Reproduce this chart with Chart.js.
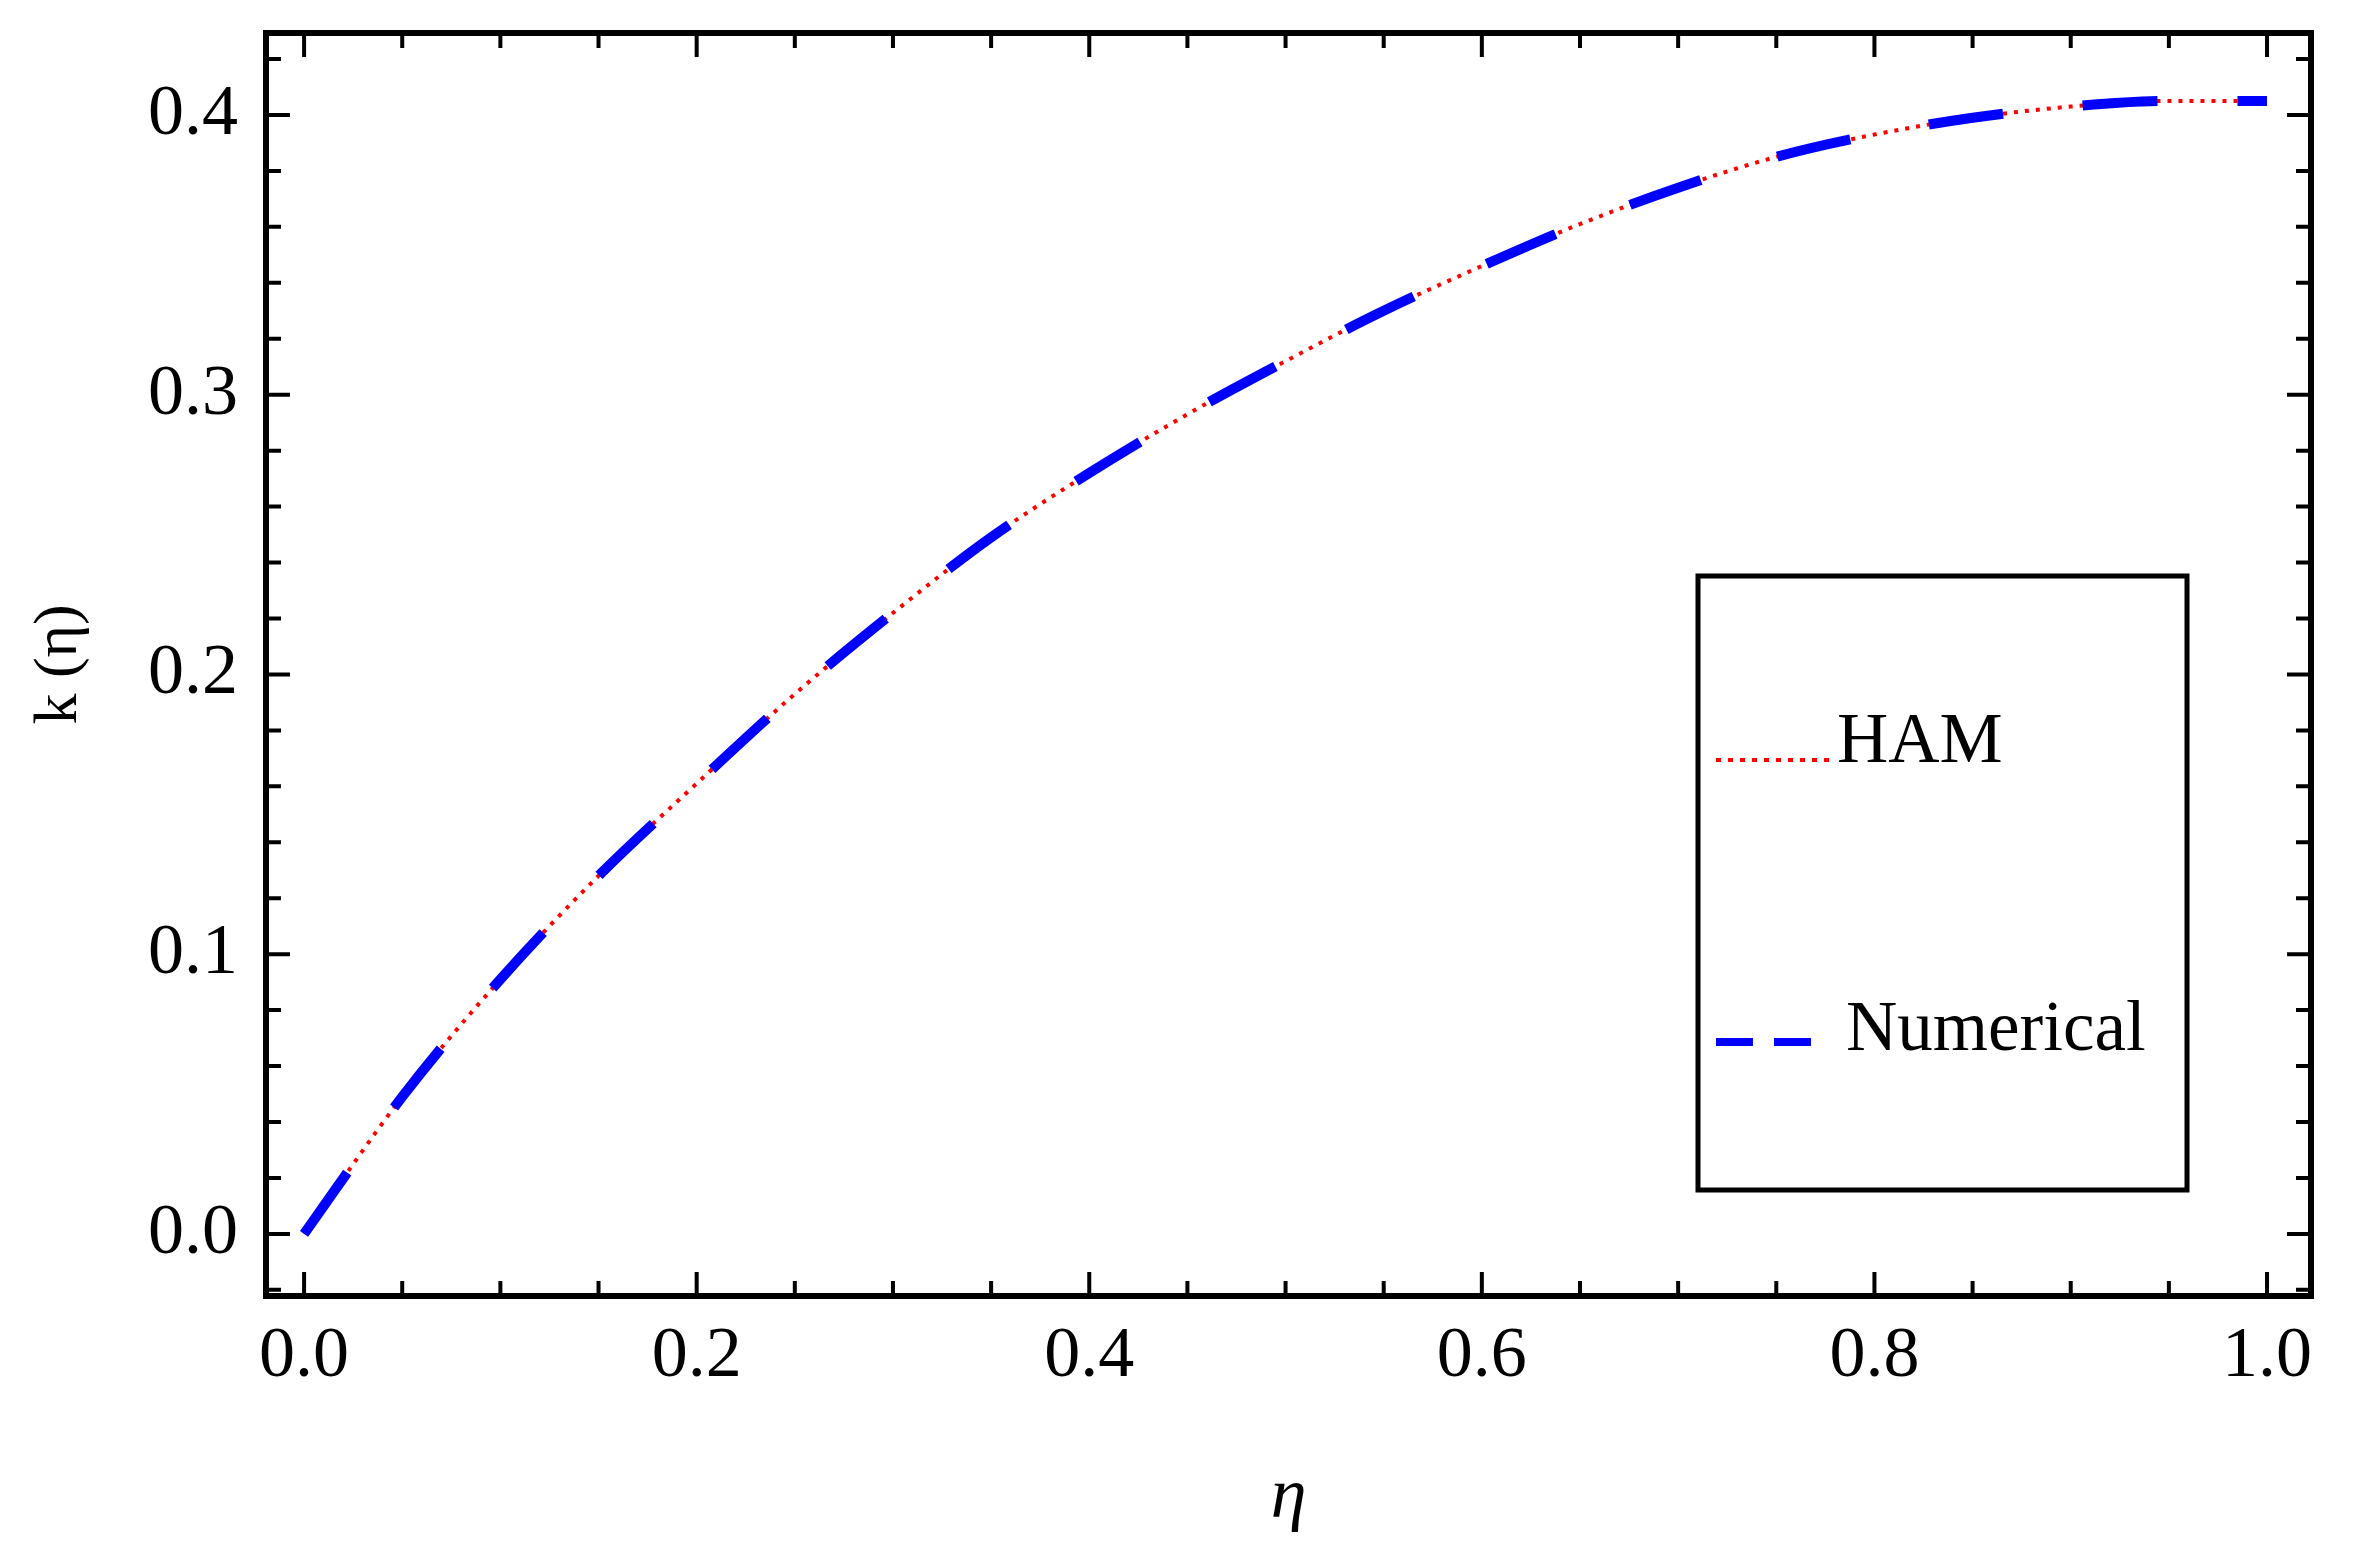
<!DOCTYPE html>
<html><head><meta charset="utf-8">
<script src="https://cdn.jsdelivr.net/npm/chart.js@4.4.1/dist/chart.umd.min.js"></script>
<style>html,body{margin:0;padding:0;background:#fff;} #wrap{width:2357px;height:1563px;}</style>
</head><body><div id="wrap"><canvas id="c" width="2357" height="1563"></canvas></div>
<script>
// ---- data ----
const etaValues       = [0, 0.05, 0.1, 0.15, 0.2, 0.25, 0.3, 0.35, 0.4, 0.45, 0.5, 0.55, 0.6, 0.65, 0.7, 0.75, 0.8, 0.85, 0.9, 0.95, 1.0];
const hamValues       = [0, 0.049, 0.091, 0.128, 0.161, 0.193, 0.222, 0.249, 0.272, 0.293, 0.312, 0.330, 0.346, 0.361, 0.374, 0.385, 0.393, 0.399, 0.403, 0.405, 0.405];
const numericalValues = [0, 0.049, 0.091, 0.128, 0.161, 0.193, 0.222, 0.249, 0.272, 0.293, 0.312, 0.330, 0.346, 0.361, 0.374, 0.385, 0.393, 0.399, 0.403, 0.405, 0.405];
const seriesLabels = ['HAM', 'Numerical'];
const xMajorTicks = [0, 0.2, 0.4, 0.6, 0.8, 1.0];
const xTickLabels = ['0.0', '0.2', '0.4', '0.6', '0.8', '1.0'];
const yMajorTicks = [0, 0.1, 0.2, 0.3, 0.4];
const yTickLabels = ['0.0', '0.1', '0.2', '0.3', '0.4'];
const xMinorTicks = [0.05, 0.1, 0.15, 0.25, 0.3, 0.35, 0.45, 0.5, 0.55, 0.65, 0.7, 0.75, 0.85, 0.9, 0.95];
const yMinorTicks = [-0.02, 0.02, 0.04, 0.06, 0.08, 0.12, 0.14, 0.16, 0.18, 0.22, 0.24, 0.26, 0.28, 0.32, 0.34, 0.36, 0.38, 0.42];
const xTitle = 'η';
const yTitle = 'k (η)';

const FONT = "'Liberation Serif', 'Times New Roman', serif";

const framePlugin = {
  id: 'frame',
  afterDraw(chart) {
    const {ctx, chartArea: a, scales: {x, y}} = chart;
    ctx.save();
    ctx.strokeStyle = '#000';
    ctx.lineCap = 'butt';
    ctx.lineWidth = 4;
    const tick = (px, len, vertical) => {
      ctx.beginPath();
      if (vertical) { // x ticks
        ctx.moveTo(px, a.bottom); ctx.lineTo(px, a.bottom - len);
        ctx.moveTo(px, a.top); ctx.lineTo(px, a.top + len);
      } else {
        ctx.moveTo(a.left, px); ctx.lineTo(a.left + len, px);
        ctx.moveTo(a.right, px); ctx.lineTo(a.right - len, px);
      }
      ctx.stroke();
    };
    xMajorTicks.forEach(v => tick(x.getPixelForValue(v), 24, true));
    xMinorTicks.forEach(v => tick(x.getPixelForValue(v), 15, true));
    yMajorTicks.forEach(v => tick(y.getPixelForValue(v), 24, false));
    yMinorTicks.forEach(v => tick(y.getPixelForValue(v), 15, false));
    ctx.lineWidth = 6;
    ctx.strokeRect(a.left, a.top, a.right - a.left, a.bottom - a.top);
    ctx.restore();
  }
};

const legendPlugin = {
  id: 'boxLegend',
  afterDraw(chart) {
    const {ctx} = chart;
    ctx.save();
    ctx.strokeStyle = '#000';
    ctx.lineWidth = 5;
    ctx.strokeRect(1698, 576, 489, 614);
    const entries = [
      {ds: chart.data.datasets[0], y: 760, tx: 1837, base: 762, x0: 1716, x1: 1831, dash: [5, 7], w: 4},
      {ds: chart.data.datasets[1], y: 1042, tx: 1846, base: 1050, x0: 1716, x1: 1811, dash: [37, 21], w: 8}
    ];
    entries.forEach(e => {
      ctx.beginPath();
      ctx.strokeStyle = e.ds.borderColor;
      ctx.lineWidth = e.w;
      ctx.setLineDash(e.dash);
      ctx.moveTo(e.x0, e.y); ctx.lineTo(e.x1, e.y);
      ctx.stroke();
      ctx.setLineDash([]);
      ctx.fillStyle = '#000';
      ctx.font = '71px ' + FONT;
      ctx.textBaseline = 'alphabetic';
      ctx.textAlign = 'left';
      ctx.fillText(e.ds.label, e.tx, e.base);
    });
    ctx.restore();
  }
};

const toPoints = vals => etaValues.map((e, i) => ({x: e, y: vals[i]}));

new Chart(document.getElementById('c'), {
  type: 'line',
  data: {
    datasets: [
      {label: seriesLabels[0], data: toPoints(hamValues), borderColor: '#ff0000', borderWidth: 4,
       borderDash: [4, 7], pointRadius: 0, cubicInterpolationMode: 'monotone', order: 2, fill: false},
      {label: seriesLabels[1], data: toPoints(numericalValues), borderColor: '#0000ff', borderWidth: 10,
       borderDash: [75, 80], pointRadius: 0, cubicInterpolationMode: 'monotone', order: 1, fill: false}
    ]
  },
  options: {
    responsive: false, animation: false, devicePixelRatio: 1,
    layout: {padding: {left: 0, right: 46, top: 33, bottom: 0}},
    plugins: {legend: {display: false}, tooltip: {enabled: false}},
    scales: {
      x: {
        type: 'linear', min: -0.0194, max: 1.0224,
        grid: {display: false, drawTicks: false}, border: {display: false},
        afterBuildTicks: s => { s.ticks = xMajorTicks.map(v => ({value: v})); },
        afterFit: s => { s.height = 267; s.paddingLeft = 0; s.paddingRight = 0; },
        ticks: {padding: 18, color: '#000', font: {family: FONT, size: 72},
                maxRotation: 0, autoSkip: false,
                callback: (v, i) => xTickLabels[i]},
        title: {display: true, text: xTitle, color: '#000',
                font: {family: FONT, size: 72, style: 'italic'}, padding: {top: 0, bottom: 22}}
      },
      y: {
        type: 'linear', min: -0.0222, max: 0.4293,
        grid: {display: false, drawTicks: false}, border: {display: false},
        afterBuildTicks: s => { s.ticks = yMajorTicks.map(v => ({value: v})); },
        afterFit: s => { s.width = 266; s.paddingTop = 0; s.paddingBottom = 0; },
        ticks: {padding: 28, color: '#000', font: {family: FONT, size: 72}, autoSkip: false,
                callback: (v, i) => yTickLabels[i]},
        title: {display: true, text: yTitle, color: '#000',
                font: {family: FONT, size: 62}, padding: {top: 23, bottom: 0}}
      }
    }
  },
  plugins: [framePlugin, legendPlugin]
});
</script></body></html>
